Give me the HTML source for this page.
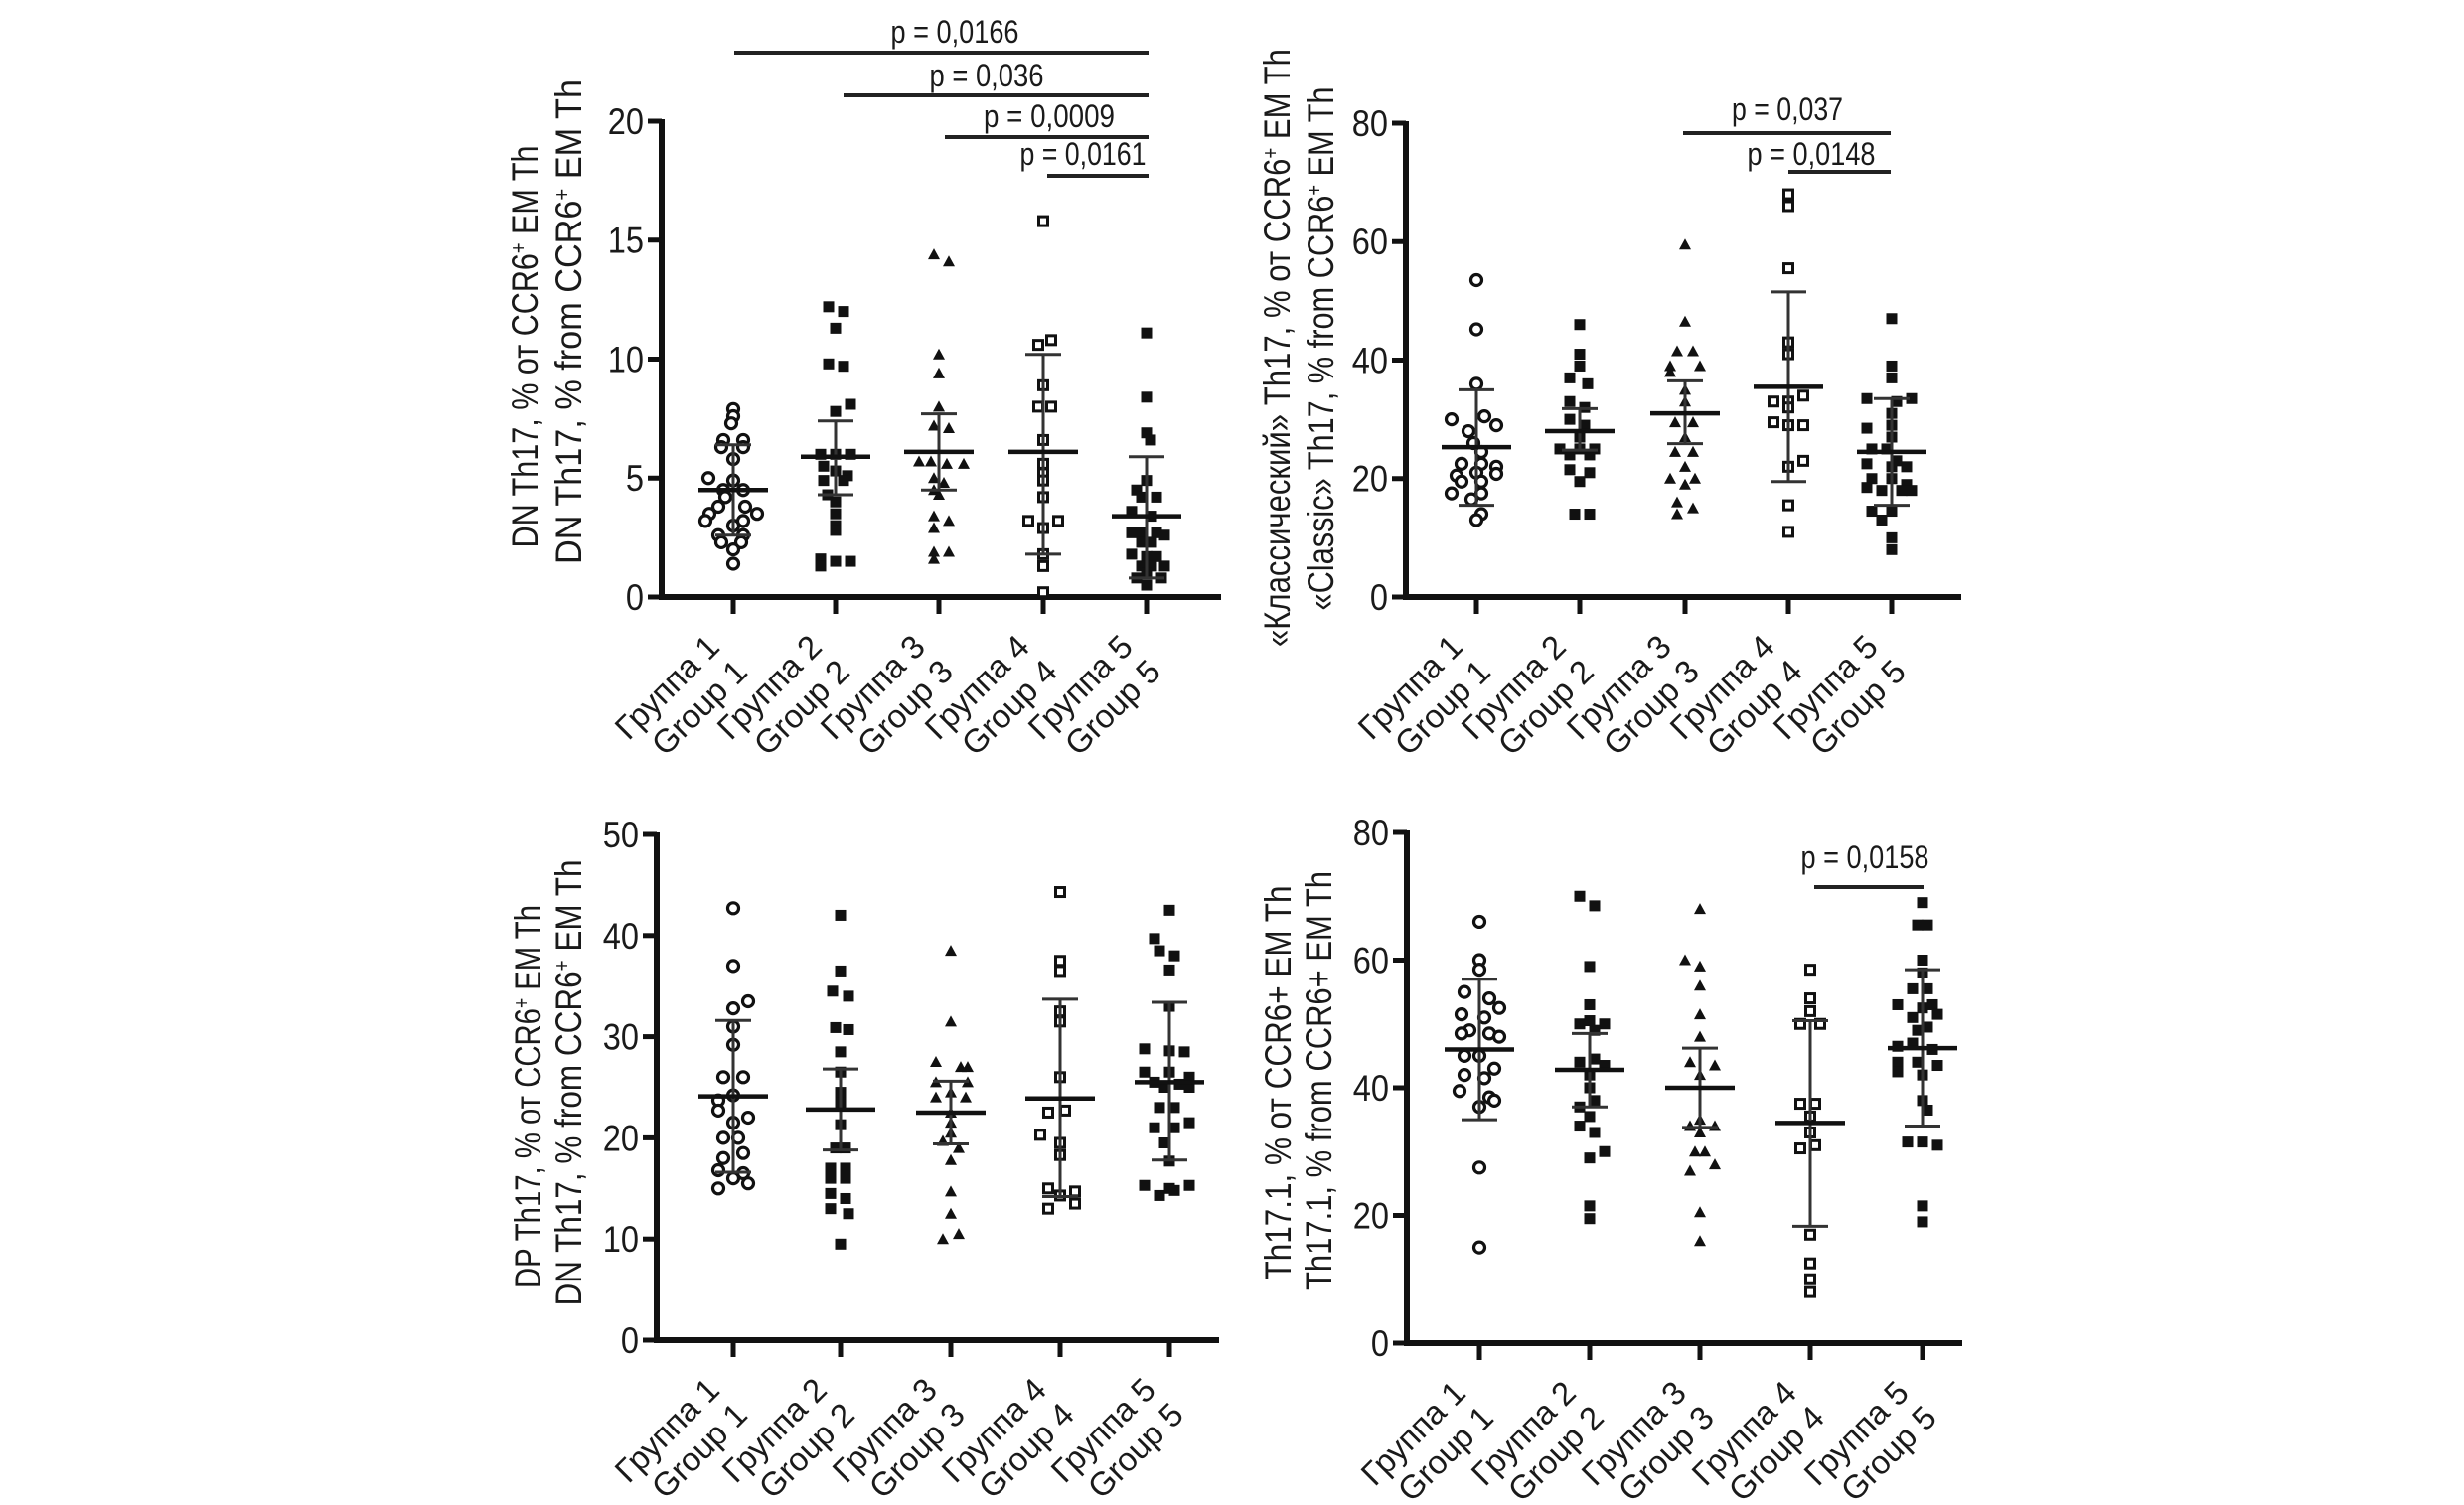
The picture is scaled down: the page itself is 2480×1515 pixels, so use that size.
<!DOCTYPE html>
<html><head><meta charset="utf-8"><style>
html,body{margin:0;padding:0;background:#fff;}
svg{display:block;}
text{font-family:"Liberation Sans",Arial,sans-serif;fill:#1a1a1a;}
</style></head><body>
<svg id="s" width="2480" height="1515" viewBox="0 0 2480 1515" xmlns="http://www.w3.org/2000/svg">
<rect width="2480" height="1515" fill="#fff"/>
<g id="g"></g>
<!-- Y labels -->
<g font-size="37" text-anchor="middle">
<text transform="translate(541,349) rotate(-90)" textLength="405" lengthAdjust="spacingAndGlyphs">DN Th17, % от CCR6<tspan baseline-shift="super" font-size="22">+</tspan> EM Th</text>
<text transform="translate(585,324) rotate(-90)" textLength="488" lengthAdjust="spacingAndGlyphs">DN Th17, % from CCR6<tspan baseline-shift="super" font-size="22">+</tspan> EM Th</text>
<text transform="translate(1298,350) rotate(-90)" textLength="602" lengthAdjust="spacingAndGlyphs">«Классический» Th17, % от CCR6<tspan baseline-shift="super" font-size="22">+</tspan> EM Th</text>
<text transform="translate(1342,351) rotate(-90)" textLength="527" lengthAdjust="spacingAndGlyphs">«Classic» Th17, % from CCR6<tspan baseline-shift="super" font-size="22">+</tspan> EM Th</text>
<text transform="translate(544,1104) rotate(-90)" textLength="386" lengthAdjust="spacingAndGlyphs">DP Th17, % от CCR6<tspan baseline-shift="super" font-size="22">+</tspan> EM Th</text>
<text transform="translate(585,1090) rotate(-90)" textLength="449" lengthAdjust="spacingAndGlyphs">DN Th17, % from CCR6<tspan baseline-shift="super" font-size="22">+</tspan> EM Th</text>
<text transform="translate(1299,1090) rotate(-90)" textLength="397" lengthAdjust="spacingAndGlyphs">Th17.1, % от CCR6+ EM Th</text>
<text transform="translate(1340,1088) rotate(-90)" textLength="422" lengthAdjust="spacingAndGlyphs">Th17.1, % from CCR6+ EM Th</text>
</g>
<!-- p-values -->
<g font-size="32" text-anchor="middle" lengthAdjust="spacingAndGlyphs">
<text x="961" y="43" textLength="129" lengthAdjust="spacingAndGlyphs">p = 0,0166</text>
<text x="993" y="87" textLength="115" lengthAdjust="spacingAndGlyphs">p = 0,036</text>
<text x="1056" y="128" textLength="132" lengthAdjust="spacingAndGlyphs">p = 0,0009</text>
<text x="1090" y="166" textLength="127" lengthAdjust="spacingAndGlyphs">p = 0,0161</text>
<text x="1799" y="121" textLength="112" lengthAdjust="spacingAndGlyphs">p = 0,037</text>
<text x="1823" y="166" textLength="129" lengthAdjust="spacingAndGlyphs">p = 0,0148</text>
<text x="1877" y="874" textLength="129" lengthAdjust="spacingAndGlyphs">p = 0,0158</text>
</g>
<g stroke="#222" stroke-width="4">
<line x1="739" y1="53" x2="1156" y2="53"/>
<line x1="849" y1="96" x2="1156" y2="96"/>
<line x1="951" y1="138" x2="1156" y2="138"/>
<line x1="1054" y1="177" x2="1156" y2="177"/>
<line x1="1694" y1="134" x2="1903" y2="134"/>
<line x1="1800" y1="173" x2="1903" y2="173"/>
<line x1="1826" y1="893" x2="1936" y2="893"/>
</g>
</svg>
<script>
var NS="http://www.w3.org/2000/svg",G=document.getElementById("g");
function el(t,a,txt){var e=document.createElementNS(NS,t);for(var k in a)e.setAttribute(k,a[k]);if(txt!==undefined)e.textContent=txt;G.appendChild(e);return e;}
var shapes=["circle","sq","tri","osq","sq"];
function marker(s,x,y){
 if(s=="circle")el("circle",{cx:x,cy:y,r:5.5,fill:"#fff",stroke:"#111","stroke-width":3.2});
 else if(s=="sq")el("rect",{x:x-5.5,y:y-5.5,width:11,height:11,fill:"#111"});
 else if(s=="osq")el("rect",{x:x-4.5,y:y-4.5,width:9,height:9,fill:"#fff",stroke:"#111","stroke-width":3});
 else el("polygon",{points:(x)+","+(y-6)+" "+(x-6)+","+(y+5)+" "+(x+6)+","+(y+5),fill:"#111"});
}
function panel(P){
 var ax=P.ax,y0=P.y0,yt=P.yt,mx=P.max,sc=(y0-yt)/mx;
 function Y(v){return y0-v*sc;}
 el("line",{x1:ax,y1:yt-2,x2:ax,y2:y0+3,stroke:"#111","stroke-width":6});
 el("line",{x1:ax-3,y1:y0,x2:P.xe,y2:y0,stroke:"#111","stroke-width":6});
 for(var v=0;v<=mx;v+=P.step){
  el("line",{x1:ax-14,y1:Y(v),x2:ax,y2:Y(v),stroke:"#111","stroke-width":5});
  el("text",{x:ax-18,y:Y(v)+13,"font-size":37,"text-anchor":"end",transform:"translate("+(ax-18)+",0) scale(0.88,1) translate("+(-(ax-18))+",0)"},String(v));
 }
 P.gx.forEach(function(gx,i){
  el("line",{x1:gx,y1:y0,x2:gx,y2:y0+17,stroke:"#111","stroke-width":5});
  var d=P.d[i];
  d.pts.forEach(function(p){marker(shapes[i],gx+p[0],Y(p[1]));});
  el("line",{x1:gx,y1:Y(d.h),x2:gx,y2:Y(d.l),stroke:"#333","stroke-width":3});
  el("line",{x1:gx-18,y1:Y(d.h),x2:gx+18,y2:Y(d.h),stroke:"#333","stroke-width":3});
  el("line",{x1:gx-18,y1:Y(d.l),x2:gx+18,y2:Y(d.l),stroke:"#333","stroke-width":3});
  el("line",{x1:gx-35,y1:Y(d.m),x2:gx+35,y2:Y(d.m),stroke:"#111","stroke-width":4.5});
  var bx=gx-12,by=y0+52;
  el("text",{"font-size":33,"text-anchor":"end",transform:"translate("+bx+","+by+") rotate(-45)"},"Группа "+(i+1));
  el("text",{"font-size":33,"text-anchor":"end",transform:"translate("+(bx+28)+","+(by+25)+") rotate(-45)"},"Group "+(i+1));
 });
}
panel({ax:666,y0:601,yt:122,max:20,step:5,xe:1229,gx:[738,841,945,1050,1154],d:[
{m:4.5,h:6.4,l:2.6,pts:[[0,7.9],[0,7.6],[-2,7.3],[-10,6.6],[10,6.6],[-12,6.3],[10,6.3],[0,5.8],[-25,5.0],[0,4.9],[-10,4.5],[10,4.5],[-8,4.2],[-15,3.8],[12,3.8],[-24,3.5],[24,3.5],[-28,3.2],[10,3.2],[0,3.0],[-15,2.6],[10,2.6],[-12,2.3],[8,2.3],[0,2.0],[0,1.4]]},
{m:5.9,h:7.4,l:4.3,pts:[[-7,12.2],[8,12.0],[0,11.3],[-7,9.8],[8,9.7],[15,8.1],[0,7.8],[-15,6.0],[0,6.0],[15,6.0],[-12,5.5],[0,5.3],[12,5.1],[-12,4.9],[8,4.9],[-8,4.3],[0,4.0],[0,3.5],[0,3.0],[0,2.8],[-15,1.6],[0,1.5],[15,1.5],[-15,1.3]]},
{m:6.1,h:7.7,l:4.5,pts:[[-5,14.4],[10,14.1],[0,10.2],[0,9.4],[0,8.0],[-5,7.2],[10,7.1],[-20,5.7],[-8,5.7],[8,5.6],[25,5.6],[-5,5.0],[5,4.8],[-5,4.5],[0,4.3],[-5,3.4],[10,3.2],[-5,2.9],[-5,1.9],[10,1.9],[-5,1.6]]},
{m:6.1,h:10.2,l:1.8,pts:[[0,15.8],[-5,10.6],[8,10.8],[0,8.9],[-5,8.0],[8,8.0],[0,6.6],[0,5.6],[0,5.2],[0,4.9],[0,4.2],[-15,3.2],[15,3.2],[0,2.9],[0,1.8],[0,1.3],[0,0.2]]},
{m:3.4,h:5.9,l:0.8,pts:[[0,11.1],[0,8.4],[0,6.9],[4,6.6],[-10,4.5],[0,4.9],[-5,4.2],[10,4.2],[-15,3.6],[5,3.4],[-15,2.7],[-5,2.7],[10,2.7],[18,2.6],[-5,2.3],[5,2.3],[-15,1.8],[0,1.7],[10,1.7],[-5,1.3],[5,1.3],[18,1.3],[0,1.0],[-10,0.8],[15,0.8],[0,0.5]]}]});
panel({ax:1415,y0:601,yt:124,max:80,step:20,xe:1974,gx:[1486,1590,1696,1800,1904],d:[
{m:25.3,h:35,l:15.5,pts:[[0,53.5],[0,45.2],[0,36],[-25,30],[8,30.5],[20,29],[-8,28],[-3,26],[5,24.5],[-15,22.5],[5,22.5],[20,22],[-20,20.5],[0,21],[20,20.8],[-15,19.5],[5,19.5],[-25,17.5],[5,17.5],[-5,16.5],[5,14],[0,13]]},
{m:28,h:31.8,l:24.8,pts:[[0,46],[0,41],[0,39],[-10,37],[8,36],[-10,33],[5,32],[-10,30],[5,29],[0,27],[-20,25],[0,25],[15,25],[-10,24],[10,24],[-10,21.5],[10,21],[0,19.5],[-5,14],[10,14]]},
{m:31,h:36.5,l:25.9,pts:[[0,59.5],[0,46.5],[-8,41.5],[8,41.5],[-15,39],[15,39],[-15,38],[0,35],[0,33],[-10,29.5],[8,29.5],[0,27],[-10,24.5],[8,24.5],[0,22],[-15,20],[10,20],[0,19],[-8,16],[-8,14],[8,15]]},
{m:35.5,h:51.5,l:19.5,pts:[[0,68],[0,66],[0,55.5],[0,43],[0,41],[-15,33],[0,33],[15,34],[0,32],[-15,29.5],[0,29],[15,29],[0,22],[15,23],[0,15.5],[0,11]]},
{m:24.5,h:33.5,l:15.5,pts:[[0,47],[0,39],[0,37],[-25,33.5],[5,33],[20,33.5],[0,31],[0,29],[-25,28.5],[0,27],[-20,25],[-5,25],[5,23],[-25,22.5],[0,22],[15,22],[-20,20],[0,20],[15,19],[-25,18.5],[-10,18],[10,18],[20,18],[-20,14.5],[0,14.5],[-10,13],[0,10],[0,8]]}]});
panel({ax:661,y0:1349,yt:840,max:50,step:10,xe:1227,gx:[738,846,957,1067,1177],d:[
{m:24.1,h:31.6,l:16.6,pts:[[0,42.7],[0,37],[15,33.5],[0,32.8],[0,31],[0,29.2],[-10,26],[10,26],[-15,23.7],[0,24.2],[-15,22.7],[15,22],[0,21.5],[-10,20],[5,20],[-10,18],[10,18.5],[-15,16.8],[10,16.5],[0,16],[-15,15],[15,15.5]]},
{m:22.8,h:26.8,l:18.8,pts:[[0,42],[0,36.5],[-8,34.5],[8,34],[-5,30.9],[8,30.7],[0,28.5],[0,26.5],[0,24.5],[0,23.5],[0,21.3],[-5,19],[5,19],[-10,17],[5,17],[-10,16],[5,16],[-10,14.5],[5,14],[-10,13],[8,12.5],[0,9.5]]},
{m:22.5,h:25.6,l:19.4,pts:[[0,38.5],[0,31.5],[-15,27.5],[10,27],[17,27],[-15,25.5],[17,25.5],[-15,24],[0,24.5],[15,24],[0,22.5],[0,21.5],[0,20.5],[-8,19.7],[8,19],[0,17.8],[0,14.7],[0,12.5],[-8,10],[8,10.5]]},
{m:23.9,h:33.7,l:14.2,pts:[[0,44.3],[0,37.5],[0,36.5],[0,32.5],[0,31.5],[0,26],[-12,22.5],[5,22.7],[-20,20.3],[0,19.5],[0,18.3],[-12,15],[15,14.7],[0,14.3],[15,13.5],[-12,13]]},
{m:25.5,h:33.4,l:17.8,pts:[[0,42.5],[-15,39.7],[-10,38.5],[5,38],[0,36.6],[0,33],[-25,28.8],[0,28.6],[15,28.5],[-25,26.5],[0,26.5],[20,26],[-15,25.5],[-5,25],[10,25.3],[20,25],[-10,23],[5,23],[-15,21],[5,21],[20,21.5],[-5,19.5],[0,17.7],[-25,15.3],[0,15],[20,15.3],[-10,14.3],[5,14.8]]}]});
panel({ax:1416,y0:1352,yt:838,max:80,step:20,xe:1975,gx:[1489,1600,1711,1822,1935],d:[
{m:46,h:57,l:35,pts:[[0,66],[0,60],[0,58.5],[-15,55],[10,54],[20,52.5],[-18,51.5],[5,51],[-10,49],[10,48.5],[-18,48.5],[20,48],[-15,45],[0,45],[15,43],[-15,42],[5,41.5],[-20,39.5],[10,38.5],[15,38],[0,37],[0,27.5],[0,15]]},
{m:42.8,h:48.5,l:37,pts:[[-10,70],[5,68.5],[0,59],[0,53],[-10,50],[5,49],[15,50],[0,50.5],[-10,44],[5,44.5],[15,43.5],[0,42],[0,40],[5,38],[-10,37],[0,35.5],[-10,34],[5,33],[15,30],[0,29],[0,21.5],[0,19.5]]},
{m:40,h:46.2,l:33.8,pts:[[0,68],[-15,60],[0,59],[0,56],[0,51.5],[0,48],[-10,44],[15,43.5],[0,42],[0,35],[-10,34],[15,34],[0,33],[-5,30],[5,30],[-10,27],[15,28],[0,20.5],[0,16]]},
{m:34.5,h:50.5,l:18.3,pts:[[0,58.5],[0,54],[0,52],[-10,50],[10,50],[-10,37.5],[5,37.5],[0,35.5],[0,33],[-10,30.5],[5,31],[0,17],[0,12.5],[0,10],[0,8]]},
{m:46.2,h:58.5,l:34,pts:[[0,69],[-5,65.5],[5,65.5],[0,60],[0,58],[-10,55.5],[5,55.5],[-25,53],[0,52.5],[10,53],[-10,51],[15,51.5],[-5,49],[5,49.5],[-25,46.5],[-10,47],[10,46],[-25,44],[-5,44],[15,43.5],[-25,42.5],[0,42],[0,38],[5,36.5],[-15,31.5],[0,31.5],[15,31],[0,21.5],[0,19]]}]});
</script>
</body></html>
